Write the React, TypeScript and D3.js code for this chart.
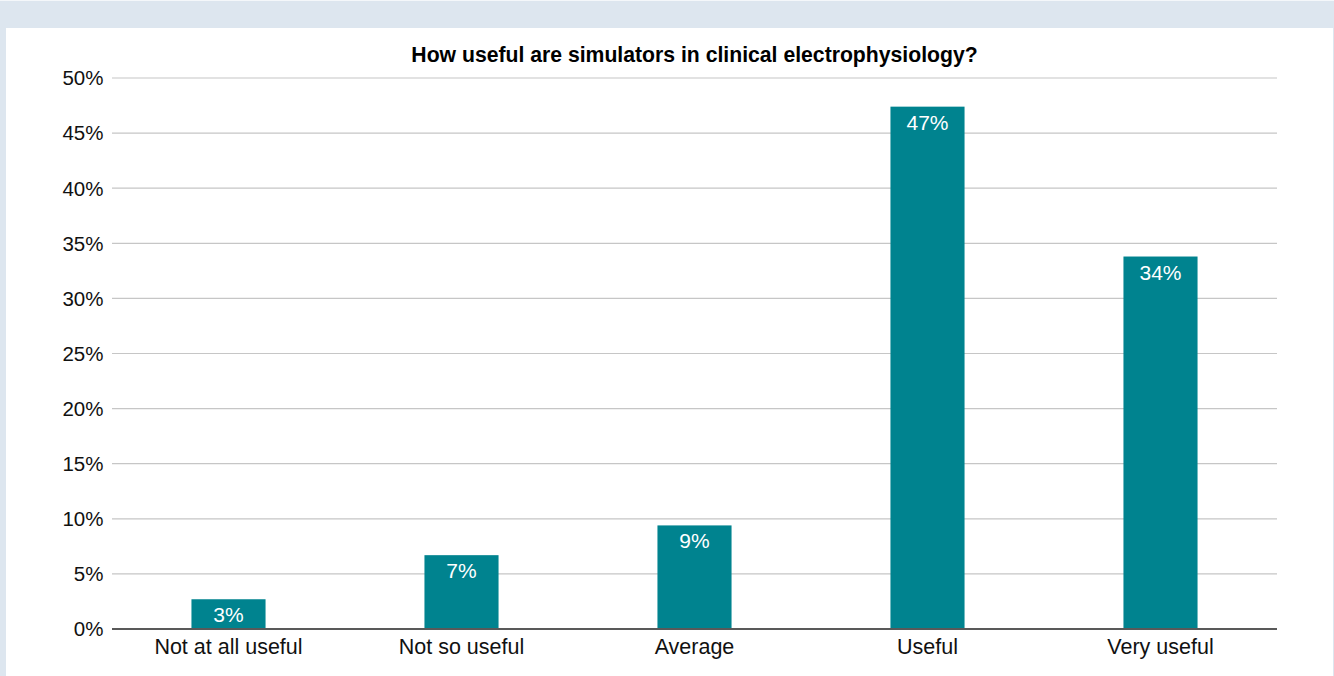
import React from "react";
import * as d3 from "d3";

const categories = ["Not at all useful", "Not so useful", "Average", "Useful", "Very useful"];
const values = [2.7, 6.7, 9.4, 47.4, 33.8];
const valueLabels = ["3%", "7%", "9%", "47%", "34%"];
const yTicks = [0, 5, 10, 15, 20, 25, 30, 35, 40, 45, 50];
const title = "How useful are simulators in clinical electrophysiology?";

export default function App() {
  const W = 1334, H = 676;
  const left = 112, right = 1277, top = 78, bottom = 629;
  const x = d3.scaleBand<string>().domain(categories).range([left, right]).paddingInner(0.682).paddingOuter(0.341);
  const y = d3.scaleLinear().domain([0, 50]).range([bottom, top]);
  const font = "'Liberation Sans', Arial, sans-serif";
  return (
    <svg width={W} height={H} style={{ position: "absolute", left: 0, top: 0 }} fontFamily={font}>
      <rect x={0} y={0} width={W} height={H} fill="#dde6ef" />
      <rect x={0} y={0} width={W} height={1} fill="#f4f7fa" />
      <rect x={6} y={28} width={W - 7} height={H - 28} fill="#ffffff" />
      <text x={(left + right) / 2} y={62} textAnchor="middle" fontWeight="bold" fontSize={21.2} fill="#000">{title}</text>
      {yTicks.map((t) => (
        <g key={t}>
          {t !== 0 && <line x1={left} x2={right} y1={y(t)} y2={y(t)} stroke="#c6c6c6" strokeWidth={1.2} />}
          <text x={103.5} y={y(t)} dy="0.36em" textAnchor="end" fontSize={20.5} fill="#111">{t}%</text>
        </g>
      ))}
      {categories.map((c, i) => (
        <g key={c}>
          <rect x={x(c)} y={y(values[i])} width={x.bandwidth()} height={bottom - y(values[i])} fill="#00838f" />
          <text x={(x(c) as number) + x.bandwidth() / 2} y={y(values[i]) + 23} textAnchor="middle" fontSize={21} fill="#ffffff">{valueLabels[i]}</text>
          <text x={(x(c) as number) + x.bandwidth() / 2} y={654} textAnchor="middle" fontSize={21.5} fill="#111">{c}</text>
        </g>
      ))}
      <line x1={left} x2={right} y1={bottom} y2={bottom} stroke="#595959" strokeWidth={2} />
    </svg>
  );
}
